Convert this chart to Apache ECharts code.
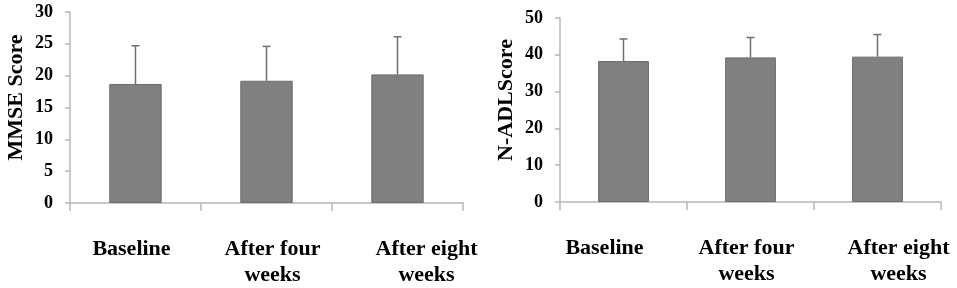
<!DOCTYPE html>
<html>
<head>
<meta charset="utf-8">
<script src="https://cdn.jsdelivr.net/npm/echarts@6/dist/echarts.min.js"></script>
<style>
  html, body { margin: 0; padding: 0; background: #fff; }
  #chart { width: 957px; height: 288px; }
</style>
</head>
<body>
<div id="chart"></div>
<script>
var categories = ['Baseline', 'After four\nweeks', 'After eight\nweeks']
var mmseMean = [18.7, 19.2, 20.2]
var mmseUpper = [24.7, 24.6, 26.1]
var adlMean = [38.3, 39.3, 39.5]
var adlUpper = [44.3, 44.7, 45.5]
// label nudges seen in the picture (px, + is right)
var mmseShift = [-4, 6, 29]
var adlShift = [-19, -4, 21]

var font = '"Liberation Serif", "Times New Roman", serif'

function catData(shifts) {
  return categories.map(function (c, i) {
    var s = shifts[i]
    return {
      value: c,
      textStyle: { padding: [0, s < 0 ? -2 * s : 0, 0, s > 0 ? 2 * s : 0] }
    }
  })
}

function errData(mean, upper) {
  return mean.map(function (m, i) {
    return [i, m, upper[i]]
  })
}

function renderErr(params, api) {
  var base = api.coord([api.value(0), api.value(1)])
  var top = api.coord([api.value(0), api.value(2)])
  var style = { stroke: '#707070', lineWidth: 1.5 }
  return {
    type: 'group',
    children: [
      { type: 'line', shape: { x1: base[0], y1: base[1], x2: top[0], y2: top[1] }, style: style },
      { type: 'line', shape: { x1: top[0] - 4, y1: top[1], x2: top[0] + 4, y2: top[1] }, style: style }
    ]
  }
}

function xAxis(idx, shifts) {
  return {
    type: 'category',
    gridIndex: idx,
    data: catData(shifts),
    axisLine: { lineStyle: { color: '#b8b8b8', width: 1.5 } },
    axisTick: { show: true, length: 8, lineStyle: { color: '#b8b8b8', width: 1.5 } },
    axisLabel: {
      interval: 0,
      margin: 33,
      fontFamily: font,
      fontWeight: 'bold',
      fontSize: 22,
      lineHeight: 26,
      color: '#000'
    }
  }
}

function yAxis(idx, name, max, interval) {
  return {
    type: 'value',
    gridIndex: idx,
    min: 0,
    max: max,
    interval: interval,
    name: name,
    nameLocation: 'middle',
    nameGap: 43,
    nameTextStyle: {
      fontFamily: font, fontWeight: 'bold', fontSize: 22, color: '#000',
      padding: [0, 0, 0, 20]
    },
    splitLine: { show: false },
    axisLine: { show: true, lineStyle: { color: '#b8b8b8', width: 1.5 } },
    axisTick: { show: true, length: 5, lineStyle: { color: '#b8b8b8', width: 1.5 } },
    axisLabel: { fontFamily: font, fontWeight: 'bold', fontSize: 18, color: '#000', margin: 17 }
  }
}

var chart = echarts.init(document.getElementById('chart'))
chart.setOption({
  animation: false,
  grid: [
    { left: 70, right: 494, top: 12, bottom: 85 },
    { left: 560, right: 16, top: 18, bottom: 86 }
  ],
  xAxis: [xAxis(0, mmseShift), xAxis(1, adlShift)],
  yAxis: [yAxis(0, 'MMSE Score', 30, 5), yAxis(1, 'N-ADLScore', 50, 10)],
  series: [
    {
      type: 'bar',
      xAxisIndex: 0,
      yAxisIndex: 0,
      data: mmseMean,
      barWidth: '40%',
      itemStyle: { color: '#808080', borderColor: '#6c6c6c', borderWidth: 1 }
    },
    {
      type: 'custom',
      xAxisIndex: 0,
      yAxisIndex: 0,
      data: errData(mmseMean, mmseUpper),
      renderItem: renderErr,
      z: 3
    },
    {
      type: 'bar',
      xAxisIndex: 1,
      yAxisIndex: 1,
      data: adlMean,
      barWidth: '40%',
      itemStyle: { color: '#808080', borderColor: '#6c6c6c', borderWidth: 1 }
    },
    {
      type: 'custom',
      xAxisIndex: 1,
      yAxisIndex: 1,
      data: errData(adlMean, adlUpper),
      renderItem: renderErr,
      z: 3
    }
  ]
})
</script>
</body>
</html>
